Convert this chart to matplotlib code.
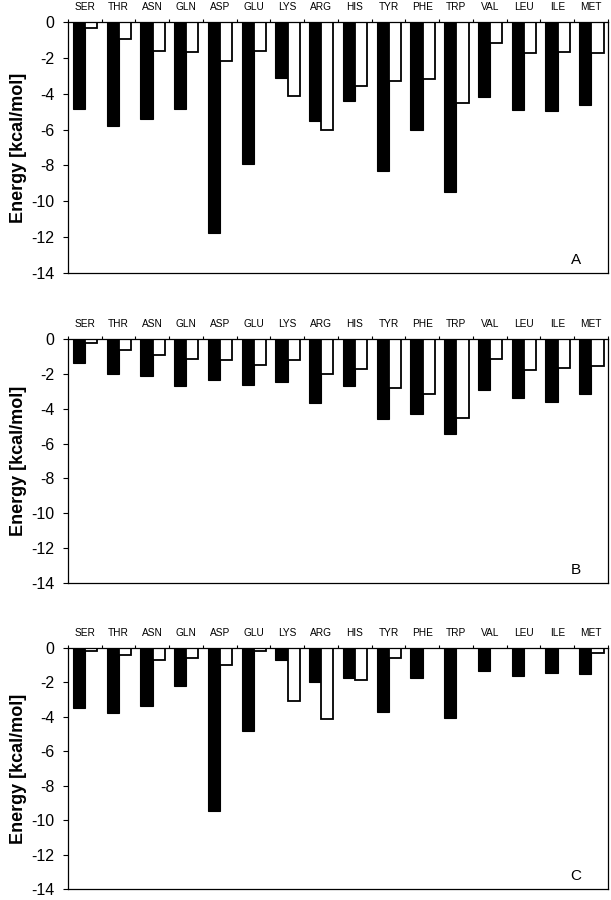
import numpy as np
import matplotlib
matplotlib.use("Agg")
from matplotlib import pyplot as plt

plt.rcParams['font.family'] = ['Liberation Sans', 'DejaVu Sans']
plt.rcParams['axes.unicode_minus'] = False

residues = ["SER", "THR", "ASN", "GLN", "ASP", "GLU", "LYS", "ARG",
            "HIS", "TYR", "PHE", "TRP", "VAL", "LEU", "ILE", "MET"]

# panel A
a_black = [-4.85, -5.8, -5.4, -4.85, -11.75, -7.9, -3.15, -5.55,
           -4.4, -8.3, -6.0, -9.5, -4.2, -4.9, -4.95, -4.65]
a_white = [-0.35, -0.95, -1.6, -1.65, -2.2, -1.6, -4.15, -6.05,
           -3.55, -3.3, -3.2, -4.5, -1.15, -1.75, -1.7, -1.75]
# panel B
b_black = [-1.4, -2.0, -2.1, -2.72, -2.33, -2.62, -2.45, -3.65,
           -2.68, -4.59, -4.32, -5.47, -2.95, -3.37, -3.63, -3.17]
b_white = [-0.25, -0.65, -0.92, -1.13, -1.22, -1.49, -1.19, -1.99,
           -1.72, -2.79, -3.17, -4.53, -1.13, -1.76, -1.66, -1.53]
# panel C
c_black = [-3.5, -3.8, -3.35, -2.2, -9.45, -4.85, -0.72, -1.96,
           -1.75, -3.71, -1.75, -4.08, -1.31, -1.62, -1.43, -1.52]
c_white = [-0.15, -0.38, -0.72, -0.57, -0.99, -0.15, -3.05, -4.11,
           -1.85, -0.57, 0.0, 0.0, 0.0, 0.0, 0.0, -0.3]

panels = [("A", a_black, a_white), ("B", b_black, b_white), ("C", c_black, c_white)]
rects = [[0.111, 0.6967, 0.884, 0.2789],
         [0.111, 0.3522, 0.884, 0.2711],
         [0.111, 0.0122, 0.884, 0.2678]]

fig = plt.figure(figsize=(6.11, 9.0), dpi=100)
x = np.arange(len(residues))
w = 0.36

for (letter, black, white), r in zip(panels, rects):
    ax = fig.add_axes(r)
    ax.bar(x + 0.33, black, width=w, color="black", edgecolor="black", linewidth=0.8)
    ax.bar(x + 0.33 + w, white, width=w, color="white", edgecolor="black", linewidth=1.3)
    ax.set_xlim(0, len(residues))
    ax.set_ylim(-14, 0)
    ax.set_yticks(np.arange(-14, 1, 2))
    ax.tick_params(axis="y", direction="out", length=3.6, width=0.8, labelsize=11.5, pad=6)
    ax.xaxis.tick_top()
    ax.set_xticks(np.arange(0, len(residues) + 1))
    ax.set_xticklabels([])
    ax.set_xticks(x + 0.5, minor=True)
    ax.set_xticklabels(residues, minor=True)
    ax.tick_params(axis="x", which="major", direction="out", length=2, width=0.8)
    ax.tick_params(axis="x", which="minor", length=0, labelsize=7.3, pad=7)
    for s in ax.spines.values():
        s.set_linewidth(0.9)
    ax.set_ylabel("Energy [kcal/mol]", fontsize=13, fontweight="bold", labelpad=3)
    ax.text(0.94, 0.024, letter, transform=ax.transAxes, fontsize=11,
            ha="center", va="bottom")

fig.savefig("out.png", dpi=100)
